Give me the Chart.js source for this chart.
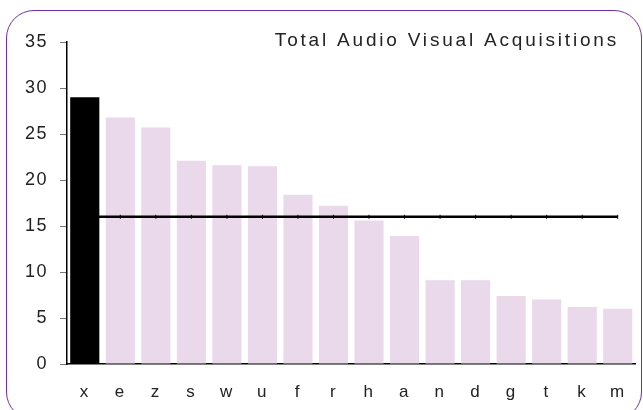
<!DOCTYPE html>
<html>
<head>
<meta charset="utf-8">
<script src="https://cdn.jsdelivr.net/npm/chart.js@4.4.0/dist/chart.umd.min.js"></script>
<style>
  html, body { margin: 0; padding: 0; background: #fff; }
  #wrap { position: relative; width: 643px; height: 410px; overflow: hidden; }
  #frame {
    position: absolute; left: 6px; top: 10px; width: 636px; height: 410px;
    border: 1.5px solid #7030a0; border-radius: 28px; box-sizing: border-box;
  }
  canvas { position: absolute; left: 0; top: 0; }
</style>
</head>
<body>
<div id="wrap">
  <div id="frame"></div>
  <canvas id="myChart" width="643" height="410"></canvas>
</div>
<script>
const categories = ['x', 'e', 'z', 's', 'w', 'u', 'f', 'r', 'h', 'a', 'n', 'd', 'g', 't', 'k', 'm'];
const acquisitions = [29.0, 26.8, 25.7, 22.1, 21.6, 21.5, 18.4, 17.2, 15.6, 13.9, 9.1, 9.1, 7.4, 7.0, 6.2, 6.0];
const average = 16;
const yTicks = [0, 5, 10, 15, 20, 25, 30, 35];
const titleText = 'Total Audio Visual Acquisitions';

// first category gets the dark bar, the rest are pale
const highlight = acquisitions.map((v, i) => i === 0 ? v : null);
const others = acquisitions.map((v, i) => i === 0 ? null : v);
const avgLine = categories.map(() => average);

const spacing = {
  id: 'spacing',
  beforeDraw(chart) { chart.ctx.letterSpacing = '1.5px'; }
};

const cornerTitle = {
  id: 'cornerTitle',
  afterDraw(chart) {
    const ctx = chart.ctx;
    ctx.save();
    ctx.letterSpacing = '2.8px';
    ctx.font = '19px "Liberation Sans", Arial, sans-serif';
    ctx.fillStyle = '#222';
    ctx.textAlign = 'right';
    ctx.textBaseline = 'middle';
    ctx.fillText(titleText, 619, 41);
    ctx.restore();
  }
};

new Chart(document.getElementById('myChart'), {
  data: {
    labels: categories,
    datasets: [
      {
        type: 'bar',
        data: highlight,
        backgroundColor: '#000',
        barPercentage: 0.82,
        categoryPercentage: 1,
        grouped: false,
        order: 1
      },
      {
        type: 'line',
        data: avgLine,
        borderColor: '#000',
        borderWidth: 2.5,
        pointStyle: 'line',
        rotation: 90,
        pointRadius: 2,
        pointBorderWidth: 1,
        pointBorderColor: '#000',
        order: 2
      },
      {
        type: 'bar',
        data: others,
        backgroundColor: '#ead9eb',
        barPercentage: 0.82,
        categoryPercentage: 1,
        grouped: false,
        order: 3
      }
    ]
  },
  options: {
    responsive: false,
    animation: false,
    layout: { padding: { top: 42, right: 6, left: 0, bottom: 0 } },
    plugins: { legend: { display: false }, tooltip: { enabled: false } },
    scales: {
      x: {
        afterFit: s => { s.height = 46; },
        grid: { display: false, drawTicks: false },
        border: { display: true, color: '#000', width: 1.5 },
        ticks: { color: '#222', padding: 18, font: { size: 17, family: '"Liberation Sans", Arial, sans-serif' } }
      },
      y: {
        min: 0,
        max: 35,
        afterFit: s => { s.width = 67; },
        afterBuildTicks: s => { s.ticks = yTicks.map(v => ({ value: v })); },
        grid: { drawOnChartArea: false, tickLength: 7, color: '#777' },
        border: { display: true, color: '#000', width: 1.5 },
        ticks: { color: '#222', padding: 12, font: { size: 18, family: '"Liberation Sans", Arial, sans-serif' } }
      }
    }
  },
  plugins: [spacing, cornerTitle]
});
</script>
</body>
</html>
